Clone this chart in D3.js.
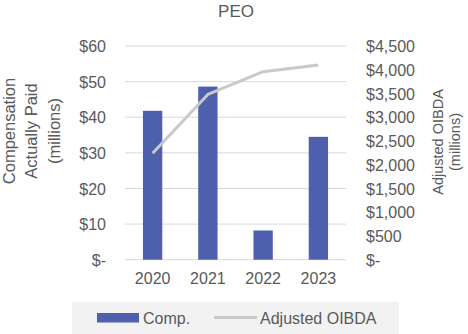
<!DOCTYPE html>
<html><head><meta charset="utf-8">
<script src="https://cdn.jsdelivr.net/npm/d3@7"></script>
<style>body{margin:0;background:#fff}svg{display:block;font-family:Arial,"Liberation Sans",sans-serif}</style>
</head><body><svg id="c" width="468" height="334"></svg>
<script>
const years = ["2020","2021","2022","2023"];
const comp = [41.8, 48.6, 8.2, 34.5];
const oibda = [2240, 3480, 3960, 4100];
const leftTicks = [0,10,20,30,40,50,60];
const rightTicks = [0,500,1000,1500,2000,2500,3000,3500,4000,4500];

const svg = d3.select("#c");
const L = 125, R = 346, T = 46, B = 259.7;
const x = d3.scaleBand().domain(years).range([L,R]).paddingInner(0.65).paddingOuter(0.325);
const yL = d3.scaleLinear().domain([0,60]).range([B,T]);
const yR = d3.scaleLinear().domain([0,4500]).range([B,T]);
const txt = "#595959";

// gridlines
svg.append("g").selectAll("line").data(leftTicks).join("line")
  .attr("x1",L).attr("x2",R).attr("y1",d=>yL(d)).attr("y2",d=>yL(d))
  .attr("stroke","#d9d9d9").attr("stroke-width",1);

// bars
svg.append("g").selectAll("rect").data(years).join("rect")
  .attr("x",d=>x(d)).attr("width",x.bandwidth())
  .attr("y",(d,i)=>yL(comp[i])).attr("height",(d,i)=>B-yL(comp[i]))
  .attr("fill","#4e5fae");

// line
const line = d3.line().x((d,i)=>x(years[i])+x.bandwidth()/2).y(d=>yR(d));
svg.append("path").datum(oibda).attr("d",line).attr("fill","none")
  .attr("stroke","#c9c9c9").attr("stroke-width",3).attr("stroke-linejoin","round");

const fmt = d => d===0 ? "$-" : "$" + d3.format(",")(d);
// left axis
const ax = d3.axisLeft(yL).tickValues(leftTicks).tickFormat(fmt).tickSize(0).tickPadding(0);
const gL = svg.append("g").attr("transform",`translate(106,0)`).call(ax);
gL.select(".domain").remove();
gL.selectAll("text").attr("fill",txt).style("font-size","16px").attr("dy","0.35em");

// right axis
const axR = d3.axisRight(yR).tickValues(rightTicks).tickFormat(fmt).tickSize(0).tickPadding(0);
const gR = svg.append("g").attr("transform",`translate(366,0)`).call(axR);
gR.select(".domain").remove();
gR.selectAll("text").attr("fill",txt).style("font-size","16px").attr("dy","0.35em");

// x axis
const axB = d3.axisBottom(x).tickSize(0).tickPadding(0);
const gB = svg.append("g").attr("transform",`translate(0,272)`).call(axB);
gB.select(".domain").remove();
gB.selectAll("text").attr("fill",txt).style("font-size","16px").attr("dy","0.75em");

// title
svg.append("text").attr("x",236).attr("y",17).attr("text-anchor","middle")
  .attr("fill",txt).style("font-size","17px").text("PEO");

// left axis title
const lt = svg.append("text").attr("transform","translate(0,131) rotate(-90)")
  .attr("text-anchor","middle").attr("fill",txt).style("font-size","16.5px");
["Compensation","Actually Paid","(millions)"].forEach((s,i)=>
  lt.append("tspan").attr("x",0).attr("y",14.5+i*22.5).text(s));

// right axis title
const rt = svg.append("text").attr("transform","translate(0,142) rotate(-90)")
  .attr("text-anchor","middle").attr("fill",txt).style("font-size","14.5px");
["Adjusted OIBDA","(millions)"].forEach((s,i)=>
  rt.append("tspan").attr("x",0).attr("y",443+i*17).text(s));

// legend
const lg = svg.append("g");
lg.append("rect").attr("x",72).attr("y",302).attr("width",327).attr("height",40).attr("fill","#f2f2f2");
lg.append("rect").attr("x",97).attr("y",313).attr("width",42).attr("height",9.5).attr("fill","#4e5fae");
lg.append("text").attr("x",143).attr("y",324).attr("fill",txt).style("font-size","16px").text("Comp.");
lg.append("line").attr("x1",214).attr("x2",257).attr("y1",317.5).attr("y2",317.5)
  .attr("stroke","#c9c9c9").attr("stroke-width",3);
lg.append("text").attr("x",260).attr("y",324).attr("fill",txt).style("font-size","16px").text("Adjusted OIBDA");
</script></body></html>
